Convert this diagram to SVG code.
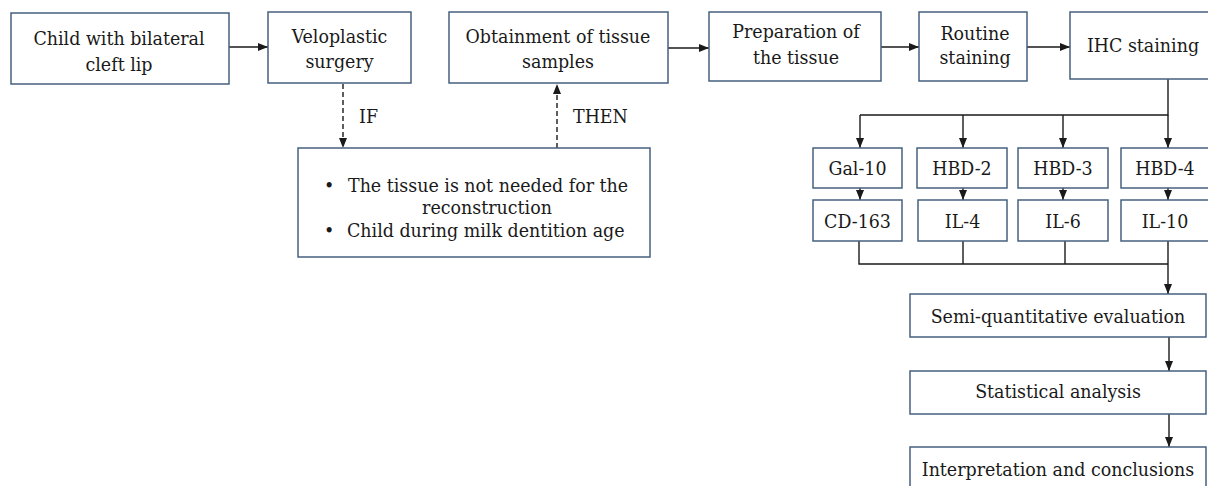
<svg xmlns="http://www.w3.org/2000/svg" width="1208" height="486" viewBox="0 0 1208 486">
<style>
.box{fill:#fff;stroke:#45617f;stroke-width:1.5}
.t{font-family:'DejaVu Serif Condensed','DejaVu Serif',serif;font-size:19.4px;fill:#1a1a1a;text-anchor:middle}
.tl{font-family:'DejaVu Serif Condensed','DejaVu Serif',serif;font-size:19.4px;fill:#1a1a1a}
.ln{fill:none;stroke:#1a1a1a;stroke-width:1.4}
.dash{fill:none;stroke:#1a1a1a;stroke-width:1.4;stroke-dasharray:5,3}
</style>
<defs>
<marker id="ah" markerWidth="10" markerHeight="10" viewBox="0 0 10 10" refX="10" refY="5" orient="auto" markerUnits="userSpaceOnUse">
<path d="M0,1 L10,5 L0,9 Z" fill="#1a1a1a"/>
</marker>
</defs>
<rect width="1208" height="486" fill="#fff"/>
<g id="connectors">
<line class="ln" x1="229" y1="47" x2="268" y2="47" marker-end="url(#ah)"/>
<line class="ln" x1="668" y1="48" x2="709" y2="48" marker-end="url(#ah)"/>
<line class="ln" x1="881" y1="47" x2="919" y2="47" marker-end="url(#ah)"/>
<line class="ln" x1="1027" y1="47" x2="1070" y2="47" marker-end="url(#ah)"/>
<line class="dash" x1="343" y1="84" x2="343" y2="148" marker-end="url(#ah)"/>
<line class="dash" x1="557" y1="148" x2="557" y2="84" marker-end="url(#ah)"/>
<text class="tl" x="359" y="123">IF</text>
<text class="tl" x="573" y="123">THEN</text>
<polyline class="ln" points="1168,79 1168,115 860,115"/>
<line class="ln" x1="860" y1="115" x2="860" y2="148" marker-end="url(#ah)"/>
<line class="ln" x1="963" y1="115" x2="963" y2="148" marker-end="url(#ah)"/>
<line class="ln" x1="1063" y1="115" x2="1063" y2="148" marker-end="url(#ah)"/>
<line class="ln" x1="1168" y1="115" x2="1168" y2="148" marker-end="url(#ah)"/>
<line class="ln" x1="860" y1="188" x2="860" y2="200" marker-end="url(#ah)"/>
<line class="ln" x1="963" y1="188" x2="963" y2="200" marker-end="url(#ah)"/>
<line class="ln" x1="1063" y1="188" x2="1063" y2="200" marker-end="url(#ah)"/>
<line class="ln" x1="1168" y1="188" x2="1168" y2="200" marker-end="url(#ah)"/>
<polyline class="ln" points="859,241 859,264 1168,264"/>
<line class="ln" x1="963" y1="241" x2="963" y2="264"/>
<line class="ln" x1="1065" y1="241" x2="1065" y2="264"/>
<line class="ln" x1="1168" y1="241" x2="1168" y2="294" marker-end="url(#ah)"/>
<line class="ln" x1="1169" y1="337" x2="1169" y2="371" marker-end="url(#ah)"/>
<line class="ln" x1="1169" y1="414" x2="1169" y2="447" marker-end="url(#ah)"/>
</g>
<g id="n1"><rect class="box" x="11" y="13" width="218" height="71"/><text class="t" x="119" y="45">Child with bilateral</text><text class="t" x="119" y="71">cleft lip</text></g>
<g id="n2"><rect class="box" x="268" y="12" width="143" height="71"/><text class="t" x="339.5" y="43">Veloplastic</text><text class="t" x="339.5" y="68">surgery</text></g>
<g id="n3"><rect class="box" x="449" y="12" width="219" height="71"/><text class="t" x="558" y="43">Obtainment of tissue</text><text class="t" x="558" y="68">samples</text></g>
<g id="n4"><rect class="box" x="709" y="12" width="172" height="69"/><text class="t" x="796" y="38">Preparation of</text><text class="t" x="796" y="64">the tissue</text></g>
<g id="n5"><rect class="box" x="919" y="12" width="108" height="69"/><text class="t" x="975" y="40">Routine</text><text class="t" x="975" y="64">staining</text></g>
<g id="n6"><rect class="box" x="1070" y="12" width="146" height="67"/><text class="t" x="1143" y="52">IHC staining</text></g>
<g id="cond"><rect class="box" x="298" y="148" width="352" height="109"/>
<text class="tl" x="324" y="192">•</text><text class="tl" x="348" y="192">The tissue is not needed for the</text>
<text class="t" x="487" y="214">reconstruction</text>
<text class="tl" x="324" y="237">•</text><text class="tl" x="347" y="237">Child during milk dentition age</text></g>
<g id="gal10"><rect class="box" x="813" y="148" width="89" height="40"/><text class="t" x="857.5" y="175">Gal-10</text></g>
<g id="hbd2"><rect class="box" x="917" y="148" width="90" height="40"/><text class="t" x="962" y="175">HBD-2</text></g>
<g id="hbd3"><rect class="box" x="1018" y="148" width="90" height="40"/><text class="t" x="1063" y="175">HBD-3</text></g>
<g id="hbd4"><rect class="box" x="1121" y="148" width="89" height="40"/><text class="t" x="1165" y="175">HBD-4</text></g>
<g id="cd163"><rect class="box" x="813" y="200" width="89" height="41"/><text class="t" x="857.5" y="228">CD-163</text></g>
<g id="il4"><rect class="box" x="918" y="200" width="89" height="41"/><text class="t" x="962.5" y="228">IL-4</text></g>
<g id="il6"><rect class="box" x="1018" y="200" width="90" height="41"/><text class="t" x="1063" y="228">IL-6</text></g>
<g id="il10"><rect class="box" x="1121" y="200" width="89" height="41"/><text class="t" x="1165" y="228">IL-10</text></g>
<g id="semi"><rect class="box" x="910" y="294" width="296" height="43"/><text class="t" x="1058" y="323">Semi-quantitative evaluation</text></g>
<g id="stat"><rect class="box" x="910" y="371" width="296" height="43"/><text class="t" x="1058" y="398">Statistical analysis</text></g>
<g id="interp"><rect class="box" x="910" y="447" width="296" height="45"/><text class="t" x="1058" y="476">Interpretation and conclusions</text></g>
</svg>
